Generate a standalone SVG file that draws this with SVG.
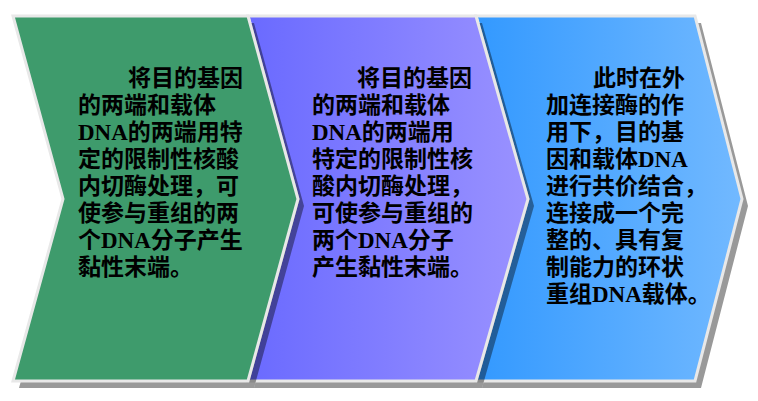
<svg xmlns="http://www.w3.org/2000/svg" width="758" height="401" viewBox="0 0 758 401">
<style>
.shadow{fill:#000;fill-opacity:0.4}
.panel{stroke:#e8e8e8;stroke-width:3;stroke-linejoin:miter}
.txt{font-family:"Liberation Serif","Noto Sans CJK SC",serif;font-size:23px;font-weight:bold;fill:#000}
.dna{font-weight:bold}
</style>
<defs>
<linearGradient id="gPurple" x1="0" y1="0" x2="1" y2="0">
<stop offset="0" stop-color="#6a6aff"/>
<stop offset="1" stop-color="#9a92ff"/>
</linearGradient>
<linearGradient id="gBlue" x1="0" y1="0" x2="1" y2="0">
<stop offset="0" stop-color="#3399ff"/>
<stop offset="1" stop-color="#72b9ff"/>
</linearGradient>
</defs>
<g id="node3">
<path class="shadow" transform="translate(6,7)" d="M476,16 L695,16 L742,199 L695,381 L476,381 L528,199 Z"/>
<path class="panel" fill="url(#gBlue)" d="M476,16 L695,16 L742,199 L695,381 L476,381 L528,199 Z"/>
<text class="txt"><tspan x="593" y="86">此时在外</tspan><tspan x="546" y="113">加连接酶的作</tspan><tspan x="546" y="140">用下，目的基</tspan><tspan x="546" y="167">因和载体<tspan class="dna">DNA</tspan></tspan><tspan x="546" y="194">进行共价结合，</tspan><tspan x="546" y="221">连接成一个完</tspan><tspan x="546" y="248">整的、具有复</tspan><tspan x="546" y="275">制能力的环状</tspan><tspan x="546" y="302">重组<tspan class="dna">DNA</tspan>载体。</tspan></text>
</g>
<g id="node2">
<path class="shadow" transform="translate(6,7)" d="M248,16 L476,16 L528,199 L476,381 L248,381 L298,199 Z"/>
<path class="panel" fill="url(#gPurple)" d="M248,16 L476,16 L528,199 L476,381 L248,381 L298,199 Z"/>
<text class="txt"><tspan x="357" y="86">将目的基因</tspan><tspan x="312" y="113">的两端和载体</tspan><tspan x="312" y="140"><tspan class="dna">DNA</tspan>的两端用</tspan><tspan x="312" y="167">特定的限制性核</tspan><tspan x="312" y="194">酸内切酶处理，</tspan><tspan x="312" y="221">可使参与重组的</tspan><tspan x="312" y="248">两个<tspan class="dna">DNA</tspan>分子</tspan><tspan x="312" y="275">产生黏性末端。</tspan></text>
</g>
<g id="node1">
<path class="shadow" transform="translate(6,7)" d="M13,16 L248,16 L298,199 L248,381 L13,381 L63,199 Z"/>
<path class="panel" fill="#3e9b6c" d="M13,16 L248,16 L298,199 L248,381 L13,381 L63,199 Z"/>
<text class="txt"><tspan x="128" y="86">将目的基因</tspan><tspan x="78" y="113">的两端和载体</tspan><tspan x="78" y="140"><tspan class="dna">DNA</tspan>的两端用特</tspan><tspan x="78" y="167">定的限制性核酸</tspan><tspan x="78" y="194">内切酶处理，可</tspan><tspan x="78" y="221">使参与重组的两</tspan><tspan x="78" y="248">个<tspan class="dna">DNA</tspan>分子产生</tspan><tspan x="78" y="275">黏性末端。</tspan></text>
</g>
<g id="connectors"></g>
</svg>
